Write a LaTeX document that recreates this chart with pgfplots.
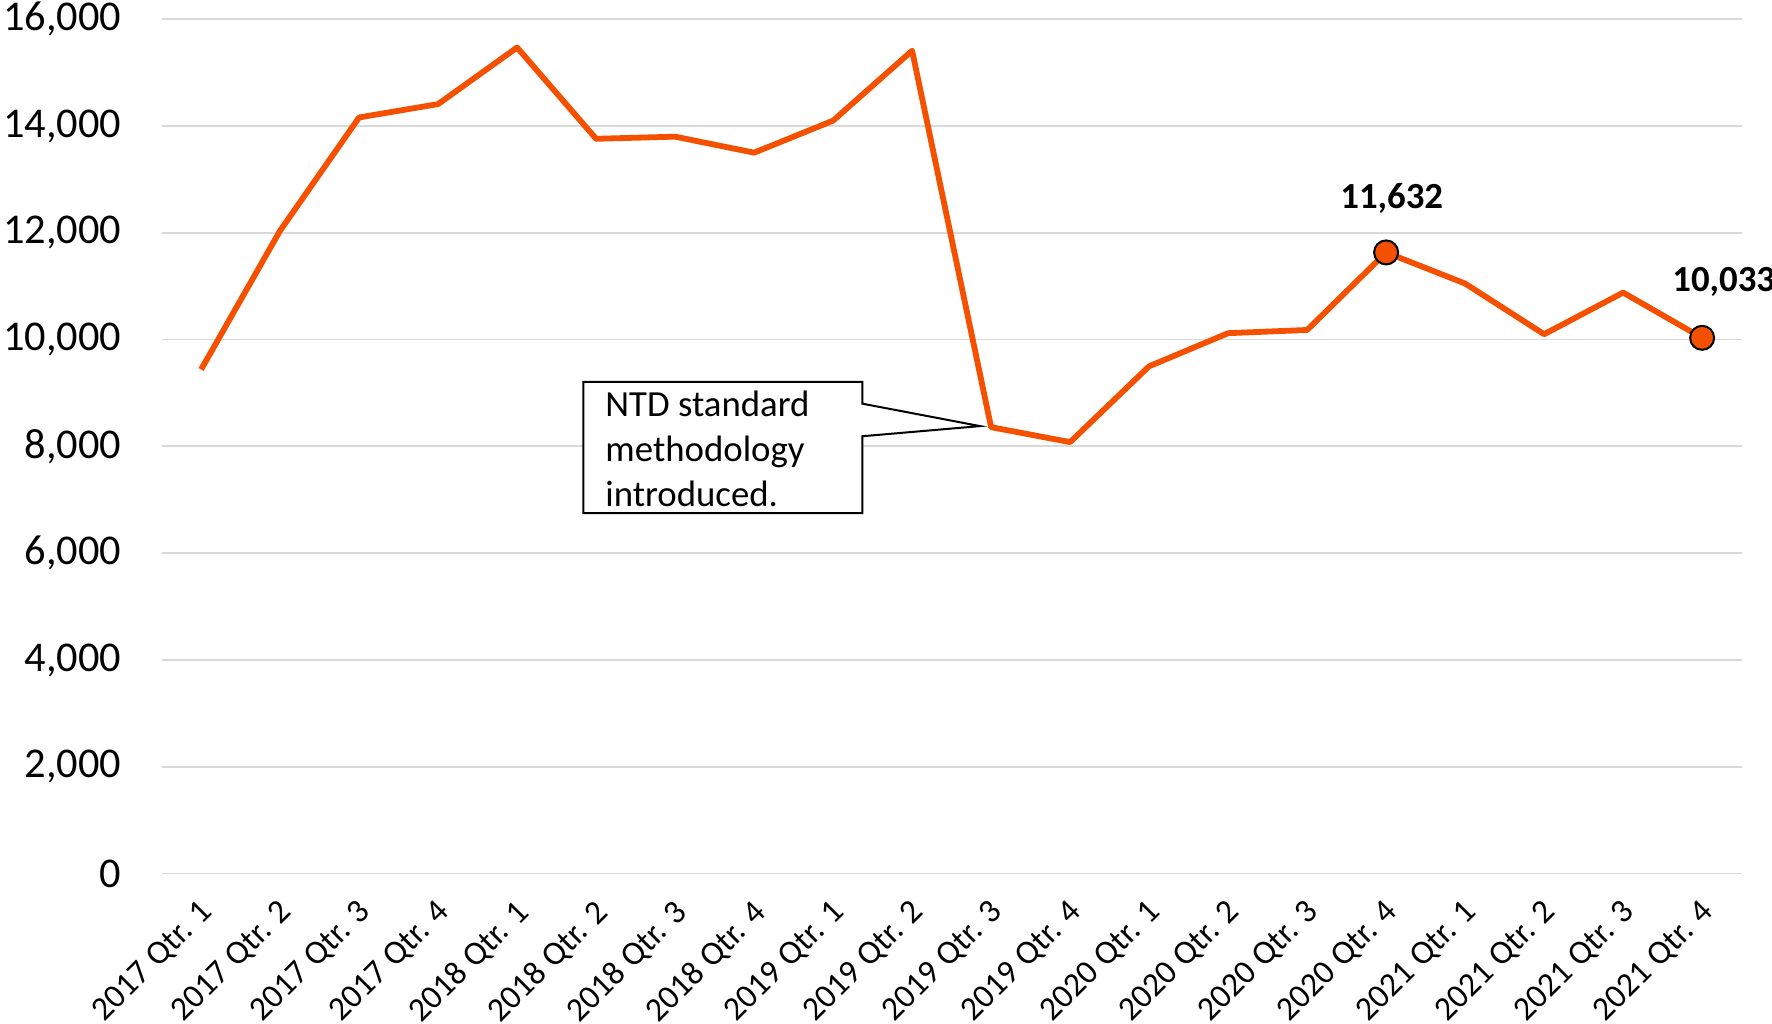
\documentclass[border=0pt]{standalone}
\usepackage{pgfplots}
\pgfplotsset{compat=1.18}
\usepackage{fontspec}
\setmainfont{Carlito}
\usetikzlibrary{calc}
\definecolor{lineor}{RGB}{245,80,0}
\definecolor{gridgray}{RGB}{217,217,217}
\begin{document}
\begin{tikzpicture}
\begin{axis}[
  width=395pt, height=213.6pt, scale only axis,
  xmin=-0.5, xmax=19.5, ymin=0, ymax=16000,
  axis line style={draw=none},
  major tick length=0pt,
  ymajorgrids, grid style={gridgray, line width=0.45pt},
  ytick={0,2000,...,16000},
  xtick={0,...,19},
  xticklabels={2017 Qtr. 1,2017 Qtr. 2,2017 Qtr. 3,2017 Qtr. 4,2018 Qtr. 1,2018 Qtr. 2,2018 Qtr. 3,2018 Qtr. 4,2019 Qtr. 1,2019 Qtr. 2,2019 Qtr. 3,2019 Qtr. 4,2020 Qtr. 1,2020 Qtr. 2,2020 Qtr. 3,2020 Qtr. 4,2021 Qtr. 1,2021 Qtr. 2,2021 Qtr. 3,2021 Qtr. 4},
  scaled y ticks=false,
  /pgf/number format/assume math mode=true,
  /pgf/number format/1000 sep={,},
  yticklabel style={font=\fontsize{10.6}{12}\selectfont, anchor=east, inner sep=0pt, xshift=-9.9pt},
  xticklabel style={font=\fontsize{8.4}{10}\selectfont, inner sep=0pt, xshift=-0.8pt, yshift=-5.9pt, rotate=45, anchor=north east},
  clip=false,
]
\addplot[lineor, line width=1.45pt, line join=round] coordinates {
(0,9440) (1,12040) (2,14160) (3,14410) (4,15470) (5,13760) (6,13800) (7,13500)
(8,14100) (9,15410) (10,8360) (11,8080) (12,9500) (13,10120) (14,10180) (15,11632)
(16,11050) (17,10100) (18,10880) (19,10033)};
\addplot[only marks, mark=*, mark size=3pt, mark options={fill=lineor, draw=black, line width=0.5pt}] coordinates {(15,11632) (19,10033)};
\node[font=\bfseries\fontsize{9.2}{11}\selectfont] at (axis cs:15,11632) [xshift=1.4pt, yshift=13.6pt] {11,632};
\node[font=\bfseries\fontsize{9.2}{11}\selectfont] at (axis cs:19,10033) [xshift=5.4pt, yshift=14.1pt] {10,033};
\draw[black, line width=0.5pt, fill=white] (axis cs:4.84,9206) -- (axis cs:8.37,9206) -- (axis cs:8.37,8800) -- (axis cs:9.86,8380) -- (axis cs:8.37,8190) -- (axis cs:8.37,6751) -- (axis cs:4.84,6751) -- cycle;
\node[anchor=north west, align=left, inner sep=0pt, font=\fontsize{9.2}{11.25}\selectfont] at (axis cs:4.84,9206) [xshift=5.3pt, yshift=-2.0pt] {NTD standard\\methodology\\introduced.};
\end{axis}
\pgfresetboundingbox
\path[use as bounding box] ($(current axis.south west)+(-40.4pt,-37.6pt)$) rectangle ($(current axis.north east)+(7.6pt,4.8pt)$);
\end{tikzpicture}
\end{document}
